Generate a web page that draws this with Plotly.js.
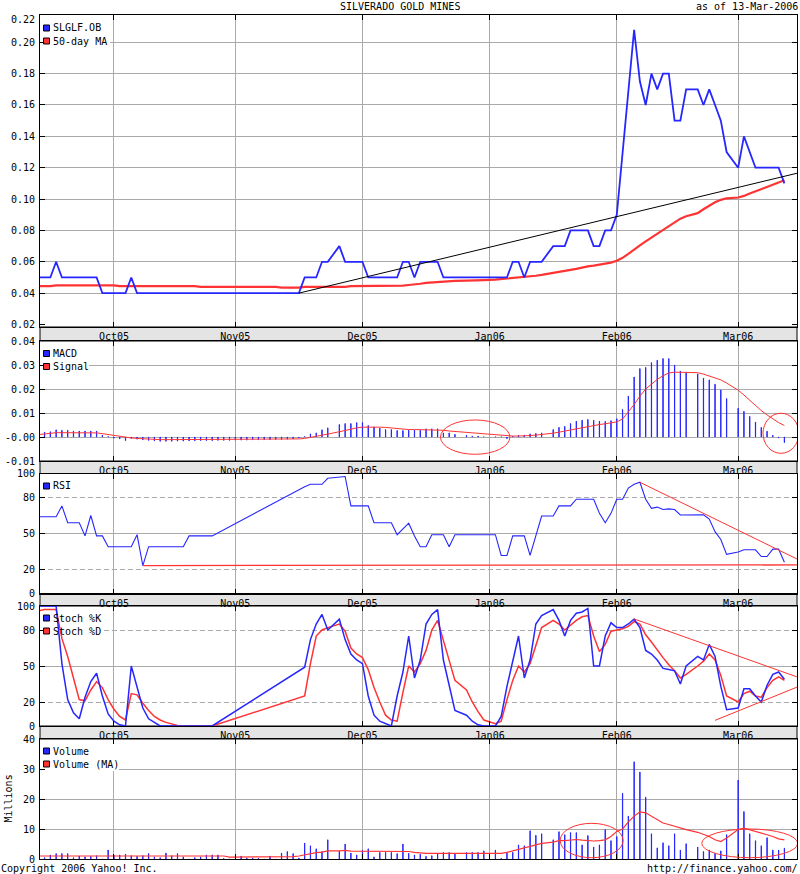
<!DOCTYPE html>
<html><head><meta charset="utf-8">
<script src="https://cdn.plot.ly/plotly-3.0.1.min.js"></script>
<style>html,body{margin:0;padding:0;background:#fff}#chart{width:800px;height:874px}</style>
</head><body><div id="chart"></div>
<script>
// ---------- DATA (one slot per weekday on Yahoo's axis; '2006-02-29' is the empty extra slot Yahoo's axis shows before March) ----------
const days = [
 '2005-09-14','2005-09-15','2005-09-16','2005-09-19','2005-09-20','2005-09-21','2005-09-22','2005-09-23','2005-09-26','2005-09-27','2005-09-28','2005-09-29','2005-09-30',
 '2005-10-03','2005-10-04','2005-10-05','2005-10-06','2005-10-07','2005-10-10','2005-10-11','2005-10-12','2005-10-13','2005-10-14','2005-10-17','2005-10-18','2005-10-19','2005-10-20','2005-10-21','2005-10-24','2005-10-25','2005-10-26','2005-10-27','2005-10-28','2005-10-31',
 '2005-11-01','2005-11-02','2005-11-03','2005-11-04','2005-11-07','2005-11-08','2005-11-09','2005-11-10','2005-11-11','2005-11-14','2005-11-15','2005-11-16','2005-11-17','2005-11-18','2005-11-21','2005-11-22','2005-11-23','2005-11-24','2005-11-25','2005-11-28','2005-11-29','2005-11-30',
 '2005-12-01','2005-12-02','2005-12-05','2005-12-06','2005-12-07','2005-12-08','2005-12-09','2005-12-12','2005-12-13','2005-12-14','2005-12-15','2005-12-16','2005-12-19','2005-12-20','2005-12-21','2005-12-22','2005-12-23','2005-12-26','2005-12-27','2005-12-28','2005-12-29','2005-12-30',
 '2006-01-02','2006-01-03','2006-01-04','2006-01-05','2006-01-06','2006-01-09','2006-01-10','2006-01-11','2006-01-12','2006-01-13','2006-01-16','2006-01-17','2006-01-18','2006-01-19','2006-01-20','2006-01-23','2006-01-24','2006-01-25','2006-01-26','2006-01-27','2006-01-30','2006-01-31',
 '2006-02-01','2006-02-02','2006-02-03','2006-02-06','2006-02-07','2006-02-08','2006-02-09','2006-02-10','2006-02-13','2006-02-14','2006-02-15','2006-02-16','2006-02-17','2006-02-20','2006-02-21','2006-02-22','2006-02-23','2006-02-24','2006-02-27','2006-02-28',
 '2006-02-29',
 '2006-03-01','2006-03-02','2006-03-03','2006-03-06','2006-03-07','2006-03-08','2006-03-09','2006-03-10','2006-03-13'
];
const futureDays = ['2006-03-14','2006-03-15','2006-03-16'];
const monthTicks  = ['2005-10-03','2005-11-01','2005-12-01','2006-01-02','2006-02-01','2006-03-01'];
const monthLabels = ['Oct05','Nov05','Dec05','Jan06','Feb06','Mar06'];

const _ = null;
const price = [
 .05,.05,.05,.06,.05,.05,.05,.05,.05,.05,.05,.04,.04,
 .04,.04,.04,.05,.04,.04,.04,.04,.04,.04,.04,.04,.04,.04,.04,.04,.04,.04,.04,.04,.04,
 .04,.04,.04,.04,.04,.04,.04,.04,.04,.04,.04,.04,.05,.05,.05,.06,.06,_,.07,.06,.06,.06,
 .06,.05,.05,.05,.05,.05,.05,.06,.06,.05,.06,.06,.06,.06,.05,.05,.05,_,.05,.05,.05,.05,
 _,.05,.05,.05,.06,.06,.05,.06,.06,.06,_,.07,.07,.07,.08,.08,.08,.08,.07,.07,.08,.08,
 .09,.13,.17,.208,.175,.16,.18,.17,.18,.18,.15,.15,.17,_,.17,.16,.17,.16,.15,.13,
 _,
 .12,.14,.13,.12,.12,.12,.12,.12,.11
];
const ma50 = [
 .0445,.0445,.0445,.045,.045,.045,.045,.045,.045,.045,.045,.045,.045,
 .045,.0445,.0445,.0445,.0445,.0445,.0445,.0445,.0445,.0445,.0445,.0445,.0445,.0445,.0445,.044,.044,.044,.044,.044,.044,
 .044,.044,.044,.044,.044,.044,.044,.044,.0435,.0435,.0435,.0435,.044,.044,.044,.044,.044,_,.044,.044,.0445,.0445,
 .0445,.0445,.0445,.0445,.0445,.0445,.0445,.0448,.0452,.0458,.046,.0465,.0468,.047,.0472,.0477,.0478,_,.048,.048,.0482,.0483,
 _,.0486,.0489,.0492,.0496,.05,.0503,.0507,.0511,.0516,_,.0527,.0533,.0541,.0548,.0555,.0564,.0571,.0576,.0582,.0588,.0595,
 .0607,.0625,.065,.068,.0705,.073,.0755,.078,.0805,.083,.0855,.0875,.089,_,.091,.0935,.096,.098,.0995,.1005,
 _,
 .101,.102,.1035,.105,.106,.1075,.109,.1105,.112
];
const macd = [
 .002,.002,.0022,.003,.0028,.0028,.0025,.0025,.0025,.0025,.0025,.0008,.0002,
 -.0005,-.0008,-.0015,-.0006,-.0009,-.0012,-.0014,-.0016,-.0018,-.0018,-.0018,-.0017,-.0017,-.0016,-.0016,-.0015,-.0015,-.0015,-.0014,-.0014,-.0014,
 -.0013,-.0013,-.0013,-.0012,-.0012,-.0011,-.0011,-.001,-.001,-.0009,-.0008,-.0003,.0002,.0013,.0017,.003,.0038,_,.0052,.0056,.0056,.006,
 .006,.0048,.0042,.0037,.0031,.0031,.0027,.0027,.0028,.0028,.0028,.0034,.0034,.0034,.0017,.0017,.0011,_,.0007,.0004,.0004,.0001,
 _,.0001,.0001,-.0007,.0003,.0007,.0008,.0013,.0015,.0017,_,.0031,.004,.0044,.0056,.0066,.007,.0073,.007,.0066,.0065,.0068,
 .0076,.0115,.017,.025,.0285,.029,.031,.032,.0327,.0327,.030,.0275,.027,_,.0263,.0245,.0238,.022,.0196,.016,
 _,
 .012,.0107,.0086,.0062,.004,.0024,.0007,-.0004,-.0023
];
const signal = [
 .001,.0013,.0016,.0018,.0018,.0018,.0018,.0018,.0018,.0018,.0017,.0014,.001,
 .0006,.0002,-.0002,-.0004,-.0006,-.0008,-.0009,-.0011,-.0011,-.0011,-.0011,-.0011,-.0011,-.0011,-.0011,-.0011,-.0011,-.0011,-.0011,-.0011,-.0011,
 -.0011,-.0011,-.0011,-.0011,-.0011,-.0011,-.0011,-.0011,-.0011,-.001,-.0009,-.0008,-.0006,-.0002,.0002,.0007,.0012,_,.0022,.0028,.0033,.0038,
 .0041,.0042,.0042,.0041,.004,.0037,.0034,.0031,.0031,.0031,.0031,.003,.003,.003,.0028,.0025,.0023,_,.0018,.0015,.0013,.0011,
 _,.0008,.0007,.0005,.0004,.0004,.0004,.0006,.0008,.001,_,.0016,.002,.0025,.003,.0035,.004,.0045,.0049,.0052,.0055,.0058,
 .0063,.0075,.0105,.0135,.017,.02,.022,.024,.0255,.0267,.027,.027,.027,_,.0268,.0262,.0255,.0247,.0238,.0225,
 _,
 .0195,.0175,.0153,.0132,.011,.0092,.0075,.006,.0048
];
const rsi = [
 64,64,64,64,73,59,59,59,48,65,48,48,39,
 39,39,39,39,49,23.3,39,39,39,39,39,39,39,48,48,48,48,48,_,_,_,
 _,_,_,_,_,_,_,_,_,_,_,_,89,91,91,91,96,_,97,97.5,73,73,
 73,73,59,59,59,59,49,54,58.6,48,39,39,49,49,49,39,49,_,49,49,49,49,
 _,49,31.7,31.7,48,48,48,31.7,48,64.6,_,64.6,73,73,73,78.6,78.6,78.6,78.6,66.8,59,66.8,
 78.6,78.6,87.9,91,92.7,78.6,71,72,70,70.5,70,65.4,65.4,_,65.6,65.6,62,51.5,45,32.6,
 _,
 34.6,36.4,36.4,36.4,30.8,30.8,37,37,26.1
];
const stochK = [
 100,100,100,100,52,22,11,6,24,37,44,25,10,
 4,1,0,50,33,15,6,3,0,0,0,0,0,0,0,0,0,0,_,_,_,
 _,_,_,_,_,_,_,_,_,_,_,_,49,72,85,93,80,_,89,72,60,55,
 52,25,9,4,2,0,25,45,75,40,55,85,93,97,55,33,13,_,9,4,1,0,
 _,0,8,33,55,75,40,55,85,92,_,97,88,75,88,94,95,98,50,50,75,86,
 82,82,85,89,82,63,60,55,48,47,46,35,50,_,58,55,68,58,33,13.6,
 _,
 15,31,31,25,20,34,43,45,39
];
const stochD = [
 96,97,97,97,73,58,40,22,21,30,37,32,22,
 14,8,5,27,26,19,13,8,5,3,1.5,0.5,0,0,0,0,0,0,_,_,_,
 _,_,_,_,_,_,_,_,_,_,_,_,25,52,75,80,82,_,85,79,65,60,
 57,47,32,20,9,5,4,28,50,45,52,63,80,88,72,55,38,_,30,20,12,5,
 _,2,4,22,38,50,45,52,68,82,_,88,85,80,84,88,91,92,75,62,68,79,
 80,81,83,87,85,76,70,63,57,51,46,40,43,_,50,54,60,55,42,25,
 _,
 20,27,29,25,24,32,38,41,38
];
const volume = [ // millions
 .8,.45,1.35,1.8,1.8,1.8,.45,1.0,.7,.9,1.1,0,3.0,
 1.35,1.35,1.6,1.1,.9,1.1,1.8,.7,.45,2.0,1.1,1.8,.7,0,.45,.7,1.35,1.35,1.35,.2,0,
 0,1.0,.3,.3,.2,0,1.0,0,2.0,2.5,1.8,.3,5.3,4.4,3.4,2.5,6.4,_,2.6,5.0,2.0,1.35,
 2.9,3.4,.7,2.2,2.2,2.2,1.8,5.0,1.9,1.35,1.6,.9,1.1,1.9,2.2,2.2,1.7,_,2.2,2.2,2.2,2.7,
 _,3.0,.2,2.2,2.2,4.7,4.4,9.4,7.9,8.4,_,6.4,9.1,8.1,8.8,8.8,4.7,7.8,4.0,4.7,9.8,6.1,
 7.5,21.9,14.3,32.4,29.0,20.6,8.4,3.7,5.4,4.4,8.4,3.0,5.1,_,4.0,2.5,3.0,1.9,2.7,8.1,
 _,
 26.3,15.8,8.4,6.1,4.4,7.1,3.0,3.0,3.6
];
const volumeMA = [
 1.0,1.0,1.0,1.0,1.0,1.0,1.0,1.0,1.0,1.0,1.2,1.2,1.2,
 1.2,1.2,1.2,1.2,1.2,1.2,1.2,1.0,1.0,1.0,1.0,1.0,1.0,1.0,1.0,1.0,1.0,1.0,1.0,1.0,0.6,
 0.6,0.6,0.6,0.6,0.6,0.6,0.6,0.6,0.6,0.6,0.8,1.0,1.4,1.8,2.1,2.3,2.7,_,2.7,2.9,2.6,2.6,
 2.6,2.6,2.6,2.6,2.6,2.6,2.6,2.7,2.5,2.2,2.0,1.9,1.9,1.9,1.9,1.9,1.9,_,1.9,1.9,1.9,1.9,
 _,1.9,1.9,2.2,2.7,3.3,3.8,4.4,4.7,5.2,_,5.6,6.1,6.1,6.4,6.5,6.3,6.1,6.0,6.1,6.4,7.5,
 9.2,10,12.4,14.3,15.7,15.4,14.3,13.1,12,11.5,10.9,10.3,9.8,_,8.9,8.3,7.5,6.4,5.8,7.0,
 _,
 9.8,10.3,9.8,9.2,8.7,8.1,7.5,6.7,6.4
];

// hand-drawn analysis lines on the original chart (endpoints)
const priceTrendX = ['2005-11-16','2006-03-16'], priceTrendY = [0.04, 0.1172];
const rsiTrendX   = ['2006-02-07','2006-03-16'], rsiTrendY   = [92.7, 26.8];
const rsiFloorX   = ['2005-10-10','2006-03-16'], rsiFloorY   = [23.3, 23.8];
const stochUpX    = ['2006-02-06','2006-03-16'], stochUpY    = [89.2, 39.5];
const stochLowX   = ['2006-02-24','2006-03-16'], stochLowY   = [4.7, 34.0];
// ellipses: [slot from, slot to, value low, value high]
const macdCircles = [[69.5, 81.5, -0.0072, 0.0071], [125.3, 131.5, -0.0068, 0.0099]];
const volCircles  = [[90.2, 101.1, 0.43, 11.9], [114.7, 131.3, 0.43, 10.0]];

// ---------- LAYOUT ----------
const BLUE = '#2626ff', RED = '#ff3333', GRID = '#aaaaaa', BAND = '#e4e4e4';
const FONT = 'DejaVu Sans Mono';
const W = 800, H = 874, L = 40, R = 3, T = 15, B = 15;
const plotW = W - L - R, plotH = H - T - B;
const xp = px => (px - L) / plotW;
const yp = py => (H - B - py) / plotH;
const panels = [[15, 327], [341, 461], [473.5, 593.5], [606, 726], [739, 859]];
const ranges = [[0.0184, 0.2174], [-0.01, 0.04], [0, 100], [0, 100], [0, 40]];
const dom = p => [yp(p[1]), yp(p[0])];
const xRange = [0.21, 131.18];
const slotAt = px => xRange[0] + (px - L) / plotW * (xRange[1] - xRange[0]);
const valAt = (i, py) => ranges[i][0] + (panels[i][1] - py) / (panels[i][1] - panels[i][0]) * (ranges[i][1] - ranges[i][0]);
const axisDays = days.concat(futureDays);
const tf = {family: FONT, size: 10, color: '#000'};

function xax(i) {
  const a = {
    type: 'category', categoryorder: 'array', categoryarray: axisDays, range: xRange,
    tickmode: 'array', tickvals: monthTicks, ticktext: monthLabels,
    ticks: 'inside', ticklen: 5, tickcolor: '#000', tickwidth: 1,
    showline: true, linecolor: '#000', linewidth: 1, mirror: 'ticks',
    showgrid: true, gridcolor: GRID, gridwidth: 1, zeroline: false,
    anchor: i === 1 ? 'y' : 'y' + i, domain: [0, 1], tickfont: tf,
    showticklabels: i < 5, fixedrange: true, ticklabelstandoff: 0
  };
  if (i > 1) a.matches = 'x';
  return a;
}
function yax(i, vals, texts, extra) {
  return Object.assign({
    domain: dom(panels[i - 1]), range: ranges[i - 1], tickmode: 'array', tickvals: vals, ticktext: texts,
    ticks: 'inside', ticklen: 5, tickcolor: '#000', showline: true, linecolor: '#000', linewidth: 1,
    mirror: 'ticks', showgrid: true, gridcolor: GRID, gridwidth: 1, zeroline: false,
    tickfont: tf, fixedrange: true, anchor: i === 1 ? 'x' : 'x' + i, ticklabelstandoff: 2
  }, extra || {});
}

const priceTicks = [0.02, 0.04, 0.06, 0.08, 0.10, 0.12, 0.14, 0.16, 0.18, 0.20];
const layout = {
  width: W, height: H, margin: {l: L, r: R, t: T, b: B},
  paper_bgcolor: '#fff', plot_bgcolor: '#fff', showlegend: false,
  font: tf, bargap: 0,
  xaxis: xax(1), xaxis2: xax(2), xaxis3: xax(3), xaxis4: xax(4), xaxis5: xax(5),
  yaxis: yax(1, priceTicks, priceTicks.map(v => v.toFixed(2)),
    {showgrid: false, minor: {tickmode: 'array', tickvals: priceTicks.slice(1), showgrid: true, gridcolor: GRID, gridwidth: 1, ticks: ''}}),
  yaxis2: yax(2, [-0.01, 0, 0.01, 0.02, 0.03, 0.04], ['-0.01', '-0.00', '0.01', '0.02', '0.03', '0.04']),
  yaxis3: yax(3, [0, 20, 50, 80, 100], ['0', '20', '50', '80', '100'],
    {griddash: '5px,3px', minor: {tickmode: 'array', tickvals: [50], showgrid: true, gridcolor: GRID, griddash: 'solid', ticks: ''}}),
  yaxis4: yax(4, [0, 20, 50, 80, 100], ['0', '20', '50', '80', '100'],
    {griddash: '5px,3px', minor: {tickmode: 'array', tickvals: [50], showgrid: true, gridcolor: GRID, griddash: 'solid', ticks: ''}}),
  yaxis5: yax(5, [0, 10, 20, 30, 40], ['0', '10', '20', '30', '40']),
  shapes: [], annotations: []
};

// date bands between panels
for (let i = 0; i < 4; i++) {
  layout.shapes.push({type: 'rect', xref: 'paper', yref: 'paper', x0: 0, x1: 1,
    y0: yp(panels[i + 1][0]), y1: yp(panels[i][1]), fillcolor: BAND, line: {color: '#000', width: 1}, layer: 'below'});
}
// ellipses
macdCircles.forEach(c => layout.shapes.push({type: 'circle', xref: 'x2', yref: 'y2', x0: c[0], x1: c[1], y0: c[2], y1: c[3], line: {color: RED, width: 1}}));
volCircles.forEach(c => layout.shapes.push({type: 'circle', xref: 'x5', yref: 'y5', x0: c[0], x1: c[1], y0: c[2], y1: c[3], line: {color: RED, width: 1}}));

// legends (inside panels, top-left)
const legends = [
  {p: 0, rows: [['SLGLF.OB', BLUE], ['50-day MA', RED]], y0: 28, right: 110},
  {p: 1, rows: [['MACD', BLUE], ['Signal', RED]], y0: 353.5, right: 89},
  {p: 2, rows: [['RSI', BLUE]], y0: 486, right: 71},
  {p: 3, rows: [['Stoch %K', BLUE], ['Stoch %D', RED]], y0: 618, right: 101},
  {p: 4, rows: [['Volume', BLUE], ['Volume (MA)', RED]], y0: 751, right: 119}
];
legends.forEach(lg => {
  lg.rows.forEach((r, j) => {
    const cy = lg.y0 + 13 * j;
    layout.shapes.push({type: 'rect', xref: 'paper', yref: 'paper', x0: xp(43.5), x1: xp(49.5),
      y0: yp(cy + 3), y1: yp(cy - 3), fillcolor: r[1], line: {color: '#000', width: 1}, layer: 'above'});
    layout.annotations.push({xref: 'paper', yref: 'paper', x: xp(51.5), y: yp(cy), text: r[0],
      showarrow: false, xanchor: 'left', yanchor: 'middle', font: tf, borderpad: 0});
  });
});
// white legend backgrounds: between gridlines and traces
legends.forEach(lg => {
  const ax = lg.p === 0 ? '' : String(lg.p + 1);
  const top = lg.y0 - 7, bot = lg.y0 + 13 * (lg.rows.length - 1) + 7;
  layout.shapes.push({type: 'rect', xref: 'x' + ax, yref: 'y' + ax,
    x0: slotAt(40.5), x1: slotAt(lg.right), y0: valAt(lg.p, bot), y1: valAt(lg.p, top),
    fillcolor: '#fff', line: {width: 0}, layer: 'between'});
});

// texts
const txt = (x, y, t, anchor, extra) => layout.annotations.push(Object.assign({xref: 'paper', yref: 'paper',
  x: xp(x), y: yp(y), text: t, showarrow: false, xanchor: anchor, yanchor: 'middle', font: tf, borderpad: 0}, extra || {}));
txt(400, 7, 'SILVERADO GOLD MINES', 'center');
txt(799, 7, 'as of 13-Mar-2006', 'right');
txt(0, 868.5, 'Copyright 2006 Yahoo! Inc.', 'left');
txt(799, 868.5, 'http://finance.yahoo.com/', 'right');
txt(7.5, 799, 'Millions', 'center', {textangle: -90});
txt(36, 20, '0.22', 'right');

// ---------- TRACES ----------
const line = (x, y, xa, ya, color, width) => ({type: 'scatter', mode: 'lines', x: x, y: y, xaxis: xa, yaxis: ya,
  connectgaps: true, line: {color: color, width: width}, hoverinfo: 'skip'});
const bars = (x, y, xa, ya) => ({type: 'bar', x: x, y: y, xaxis: xa, yaxis: ya, width: 0.04,
  marker: {color: BLUE, line: {color: BLUE, width: 1}}, hoverinfo: 'skip'});

const data = [
  line(days, ma50, 'x', 'y', RED, 2.2),
  line(days, price, 'x', 'y', BLUE, 1.8),
  line(priceTrendX, priceTrendY, 'x', 'y', '#000', 1),
  bars(days, macd, 'x2', 'y2'),
  line(days, signal, 'x2', 'y2', RED, 1),
  line(days, rsi, 'x3', 'y3', BLUE, 1.1),
  line(rsiFloorX, rsiFloorY, 'x3', 'y3', RED, 1.3),
  line(rsiTrendX, rsiTrendY, 'x3', 'y3', RED, 1),
  line(days, stochD, 'x4', 'y4', RED, 1.5),
  line(days, stochK, 'x4', 'y4', BLUE, 1.5),
  line(stochUpX, stochUpY, 'x4', 'y4', RED, 1),
  line(stochLowX, stochLowY, 'x4', 'y4', RED, 1),
  bars(days, volume, 'x5', 'y5'),
  line(days, volumeMA, 'x5', 'y5', RED, 1.2)
];

Plotly.newPlot('chart', data, layout, {displayModeBar: false, staticPlot: true});
</script>
</body></html>
